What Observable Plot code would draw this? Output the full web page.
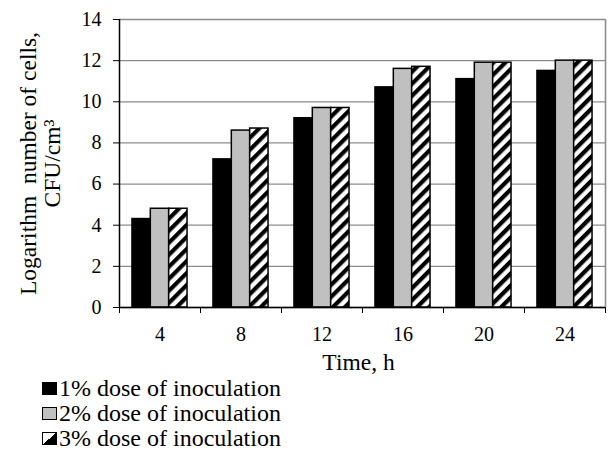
<!DOCTYPE html>
<html>
<head>
<meta charset="utf-8">
<script src="https://cdn.jsdelivr.net/npm/d3@7"></script>
<script src="https://cdn.jsdelivr.net/npm/@observablehq/plot@0.6"></script>
<style>
  html, body { margin: 0; padding: 0; background: white; }
  body { width: 610px; height: 459px; overflow: hidden; font-family: "Liberation Serif", "Times New Roman", serif; color: black; }
  #legend { padding-left: 42px; font-size: 24px; line-height: 25px; }
  .row { display: flex; align-items: center; height: 25px; }
  .sw { width: 15px; height: 13px; box-sizing: border-box; border: 1.5px solid black; margin-right: 2px; }
</style>
</head>
<body>
<div id="chart"></div>
<div id="legend"></div>
<script>
const times = [4, 8, 12, 16, 20, 24];
const series = ["1% dose of inoculation", "2% dose of inoculation", "3% dose of inoculation"];
const dose1 = [4.3, 7.2, 9.2, 10.7, 11.1, 11.5];
const dose2 = [4.8, 8.6, 9.7, 11.6, 11.9, 12.0];
const dose3 = [4.8, 8.7, 9.7, 11.7, 11.9, 12.0];
const yTicks = [0, 2, 4, 6, 8, 10, 12, 14];
const fills = ["black", "#c0c0c0", "url(#hatch)"];
const yTitle = "Logarithm\u00a0 number of cells,\nCFU/cm³";
const xTitle = "Time, h";

const values = [dose1, dose2, dose3];
const groupPad = 0.16;
const barFrac = (1 - 2 * groupPad) / 3;
const rows = [];
values.forEach((vals, j) => {
  vals.forEach((v, i) => {
    rows.push({time: times[i], series: series[j], value: v,
      x1: i + groupPad + j * barFrac, x2: i + groupPad + (j + 1) * barFrac});
  });
});

const font = "'Liberation Serif', 'Times New Roman', serif";
const plot = Plot.plot({
  width: 610, height: 376,
  marginLeft: 119, marginRight: 5, marginTop: 19, marginBottom: 69,
  x: {domain: [0, times.length], axis: null},
  y: {domain: [0, 14], axis: null},
  color: {domain: series, range: fills},
  style: {fontFamily: font, background: "white", color: "black"},
  marks: [
    Plot.gridY(yTicks, {stroke: "#8c8c8c", strokeOpacity: 1, strokeWidth: 1.3}),
    Plot.ruleX([times.length], {stroke: "#8c8c8c", strokeWidth: 1.6}),
    Plot.rectY(rows, {x1: "x1", x2: "x2", y: "value", fill: "series", stroke: "black", strokeWidth: 1.5}),
    Plot.ruleY([0], {stroke: "black", strokeWidth: 1.3}),
    Plot.ruleX([0], {stroke: "black", strokeWidth: 1.5}),
    Plot.axisY({ticks: yTicks, tickSize: 6, tickPadding: 12, fontSize: 20, label: null, stroke: "black", fontFamily: font}),
    Plot.axisX({ticks: d3.range(times.length + 1), tickSize: 6, tickFormat: () => "", label: null, stroke: "black"}),
    Plot.axisX({ticks: times.map((t, i) => i + 0.5), tickSize: 0, tickPadding: 19, fontSize: 20, label: null, fontFamily: font,
      tickFormat: v => String(times[Math.floor(v)])}),
    Plot.text([xTitle], {text: d => d, frameAnchor: "bottom", dx: -4, dy: 62, fontSize: 23.5, fontFamily: font}),
    Plot.text([yTitle], {text: d => d, frameAnchor: "left", textAnchor: "middle", lineAnchor: "middle",
      rotate: -90, dx: -79, fontSize: 23.5, lineHeight: 1.02, fontFamily: font})
  ]
});

d3.select(plot).insert("defs", ":first-child").html(
  '<pattern id="hatch" patternUnits="userSpaceOnUse" width="8.5" height="8.5" patternTransform="rotate(45)">' +
  '<rect width="8.5" height="8.5" fill="white"/><rect width="4.2" height="8.5" fill="black"/></pattern>');

document.getElementById("chart").appendChild(plot);

const legend = d3.select("#legend");
series.forEach((s, j) => {
  const row = legend.append("div").attr("class", "row");
  const sw = row.append("div").attr("class", "sw");
  if (j === 2) {
    sw.style("background", "linear-gradient(to top left, black 50%, white 50%)");
  } else {
    sw.style("background", fills[j]);
  }
  row.append("span").text(s);
});
</script>
</body>
</html>
